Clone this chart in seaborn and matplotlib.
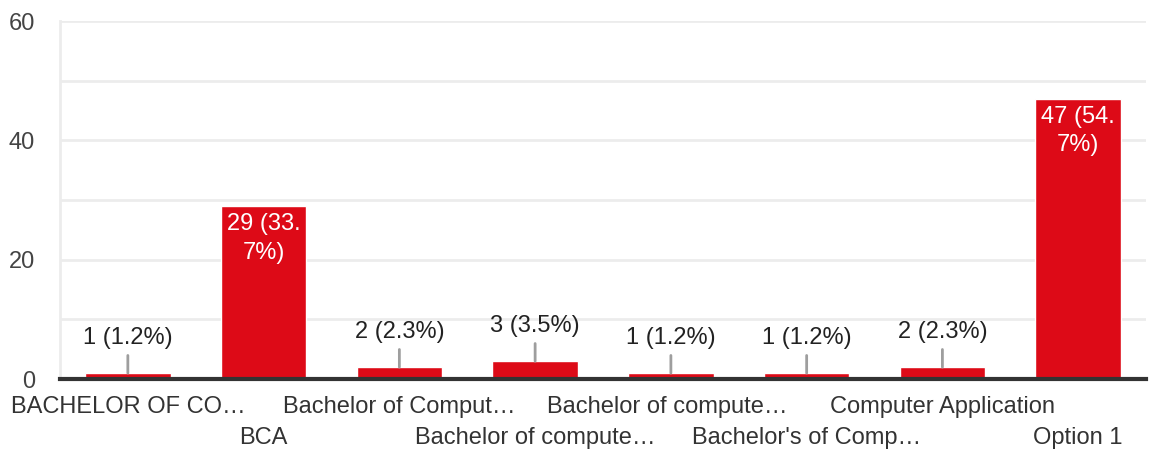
import matplotlib
matplotlib.use("Agg")
import matplotlib.pyplot as plt
import matplotlib.transforms as mtrans
import seaborn as sns
import pandas as pd
import numpy as np

categories = ["BACHELOR OF CO…", "BCA", "Bachelor of Comput…", "Bachelor of compute…",
              "Bachelor of compute… ", "Bachelor's of Comp…", "Computer Application", "Option 1"]
counts = [1, 29, 2, 3, 1, 1, 2, 47]
percents = ["1.2%", "33.7%", "2.3%", "3.5%", "1.2%", "1.2%", "2.3%", "54.7%"]
yticks = [0, 20, 40, 60]

df = pd.DataFrame({"category": categories, "count": counts})

sns.set_style("white")
plt.rcParams["font.family"] = ["Liberation Sans", "DejaVu Sans"]

fig = plt.figure(figsize=(11.51, 4.54), dpi=100)
ax = fig.add_axes([0.0521, 0.165, 0.9436, 0.7887])

sns.barplot(data=df, x="category", y="count", color="#DD0A17", saturation=1,
            width=0.63, ax=ax, zorder=3)

ax.set_ylim(0, 60)
ax.set_xlim(-0.5, len(categories) - 0.5)
ax.set_yticks(yticks)
ax.set_yticks(np.arange(0, 61, 10), minor=True)
ax.grid(True, axis="y", which="both", color="#ececec", linewidth=2, zorder=0)
ax.tick_params(axis="y", which="both", length=0, pad=18, labelsize=17, labelcolor="#444444")
ax.tick_params(axis="x", length=0, pad=12, labelsize=17, labelcolor="#333333")

ax.set_xticks(range(len(categories)))
ax.set_xticklabels(categories, va="top")
# stagger every second category label onto a second row
shift = mtrans.ScaledTranslation(0, -0.31, fig.dpi_scale_trans)
for i, lbl in enumerate(ax.get_xticklabels()):
    if i % 2 == 1:
        lbl.set_transform(lbl.get_transform() + shift)
ax.set_xlabel("")
ax.set_ylabel("")

for s in ["top", "right"]:
    ax.spines[s].set_visible(False)
ax.spines["left"].set_color("#ececec")
ax.spines["left"].set_linewidth(2)
ax.spines["bottom"].set_color("#333333")
ax.spines["bottom"].set_linewidth(3)
ax.spines["bottom"].set_zorder(5)

for i, (v, p) in enumerate(zip(counts, percents)):
    if v >= 20:
        head, tail = p.split(".")
        ax.annotate(f"{v} ({head}.\n{tail})", xy=(i, v), xytext=(0, -5),
                    textcoords="offset points", ha="center", va="top",
                    color="white", fontsize=17, linespacing=1.4, zorder=6)
    else:
        ax.annotate(f"{v} ({p})", xy=(i, v), xytext=(0, 25),
                    textcoords="offset points", ha="center", va="center",
                    color="#222222", fontsize=17, zorder=6,
                    arrowprops=dict(arrowstyle="-", color="#9e9e9e", lw=2,
                                    shrinkA=2, shrinkB=0))

fig.savefig("out.png", dpi=100)
